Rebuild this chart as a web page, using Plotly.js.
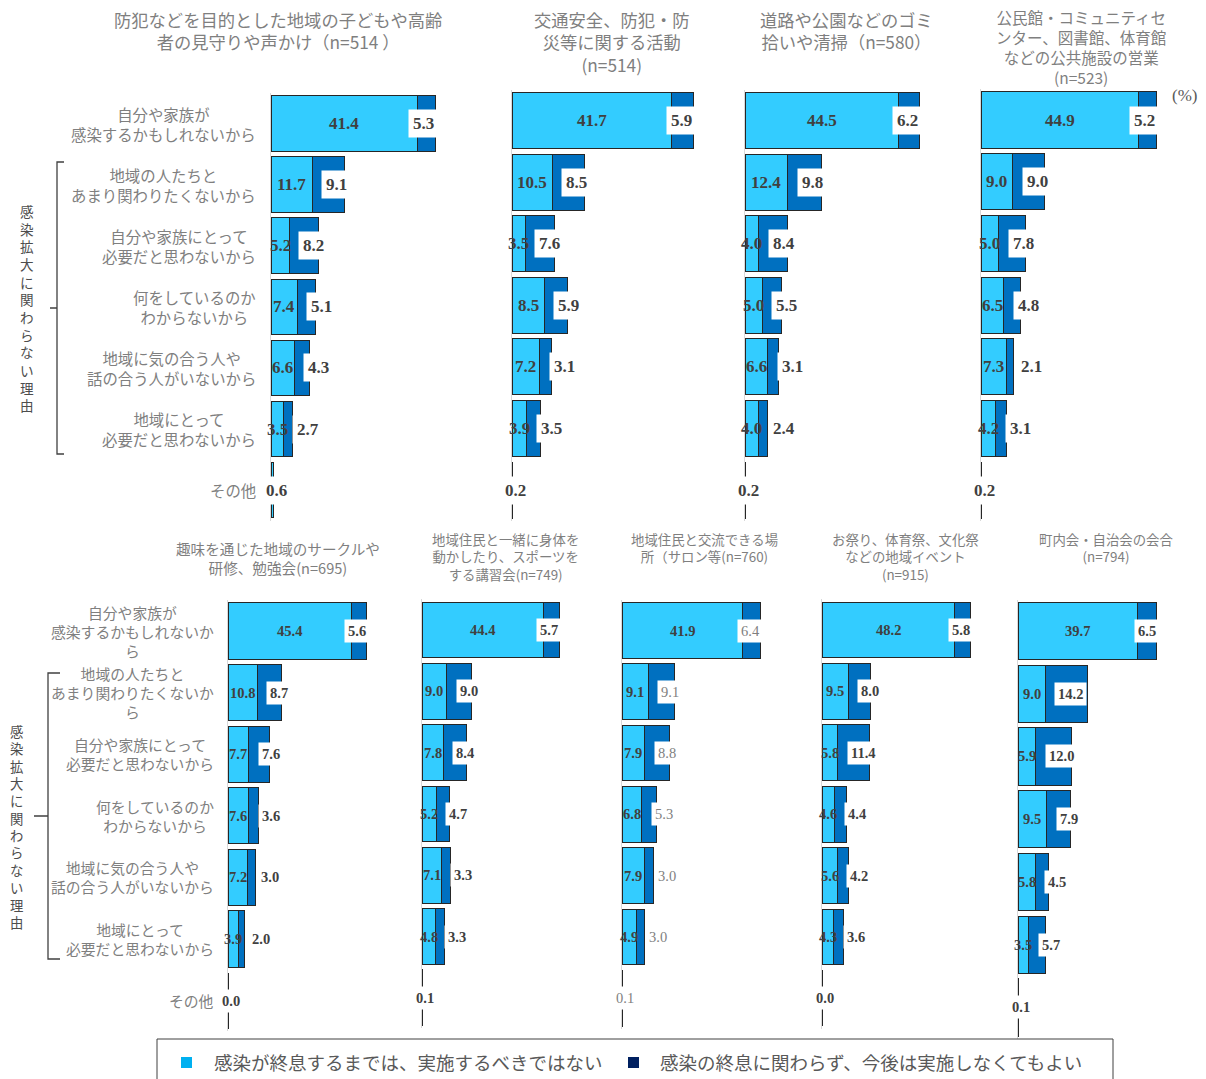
<!DOCTYPE html>
<html>
<head>
<meta charset="utf-8">
<script src="https://cdn.plot.ly/plotly-3.0.1.min.js"></script>
<style>
  html, body { margin: 0; padding: 0; background: #ffffff; }
  #chart { width: 1206px; height: 1079px; }
</style>
</head>
<body>
<div id="chart"></div>
<script>
// Reasons why each community activity should not be held (%)

const reasons = [
  '自分や家族が感染するかもしれないから',
  '地域の人たちとあまり関わりたくないから',
  '自分や家族にとって必要だと思わないから',
  '何をしているのかわからないから',
  '地域に気の合う人や話の合う人がいないから',
  '地域にとって必要だと思わないから',
  'その他'
];

const reasonLabelsTop = [
  '自分や家族が<br>感染するかもしれないから',
  '地域の人たちと<br>あまり関わりたくないから',
  '自分や家族にとって<br>必要だと思わないから',
  '何をしているのか<br>わからないから',
  '地域に気の合う人や<br>話の合う人がいないから',
  '地域にとって<br>必要だと思わないから',
  'その他'
];

const reasonLabelsBottom = [
  '自分や家族が<br>感染するかもしれないか<br>ら',
  '地域の人たちと<br>あまり関わりたくないか<br>ら',
  '自分や家族にとって<br>必要だと思わないから',
  '何をしているのか<br>わからないから',
  '地域に気の合う人や<br>話の合う人がいないから',
  '地域にとって<br>必要だと思わないから',
  'その他'
];

const groupBracketText = '感染拡大に関わらない理由';

const seriesNames = [
  '感染が終息するまでは、実施するべきではない',
  '感染の終息に関わらず、今後は実施しなくてもよい'
];

const activityTitles = [
  '防犯などを目的とした地域の子どもや高齢<br>者の見守りや声かけ（n=514 ）',
  '交通安全、防犯・防<br>災等に関する活動<br>(n=514)',
  '道路や公園などのゴミ<br>拾いや清掃（n=580）',
  '公民館・コミュニティセ<br>ンター、図書館、体育館<br>などの公共施設の営業<br>(n=523)',
  '趣味を通じた地域のサークルや<br>研修、勉強会(n=695)',
  '地域住民と一緒に身体を<br>動かしたり、スポーツを<br>する講習会(n=749)',
  '地域住民と交流できる場<br>所（サロン等(n=760)',
  'お祭り、体育祭、文化祭<br>などの地域イベント<br>(n=915)',
  '町内会・自治会の会合<br>(n=794)'
];

// "until the infection ends" / "not needed from now on" shares per activity
const watchUntilEnd    = [41.4, 11.7, 5.2, 7.4, 6.6, 3.5, 0.6];
const watchFromNow     = [5.3, 9.1, 8.2, 5.1, 4.3, 2.7, null];
const safetyUntilEnd   = [41.7, 10.5, 3.5, 8.5, 7.2, 3.9, 0.2];
const safetyFromNow    = [5.9, 8.5, 7.6, 5.9, 3.1, 3.5, null];
const cleanupUntilEnd  = [44.5, 12.4, 4.0, 5.0, 6.6, 4.0, 0.2];
const cleanupFromNow   = [6.2, 9.8, 8.4, 5.5, 3.1, 2.4, null];
const facilityUntilEnd = [44.9, 9.0, 5.0, 6.5, 7.3, 4.2, 0.2];
const facilityFromNow  = [5.2, 9.0, 7.8, 4.8, 2.1, 3.1, null];
const hobbyUntilEnd    = [45.4, 10.8, 7.7, 7.6, 7.2, 3.9, 0.0];
const hobbyFromNow     = [5.6, 8.7, 7.6, 3.6, 3.0, 2.0, null];
const sportsUntilEnd   = [44.4, 9.0, 7.8, 5.2, 7.1, 4.8, 0.1];
const sportsFromNow    = [5.7, 9.0, 8.4, 4.7, 3.3, 3.3, null];
const salonUntilEnd    = [41.9, 9.1, 7.9, 6.8, 7.9, 4.9, 0.1];
const salonFromNow     = [6.4, 9.1, 8.8, 5.3, 3.0, 3.0, null];
const festivalUntilEnd = [48.2, 9.5, 5.8, 4.6, 5.6, 4.3, 0.0];
const festivalFromNow  = [5.8, 8.0, 11.4, 4.4, 4.2, 3.6, null];
const meetingUntilEnd  = [39.7, 9.0, 5.9, 9.5, 5.8, 3.5, 0.1];
const meetingFromNow   = [6.5, 14.2, 12.0, 7.9, 4.5, 5.7, null];

const seriesUntilEnd = [watchUntilEnd, safetyUntilEnd, cleanupUntilEnd, facilityUntilEnd,
  hobbyUntilEnd, sportsUntilEnd, salonUntilEnd, festivalUntilEnd, meetingUntilEnd];
const seriesFromNow = [watchFromNow, safetyFromNow, cleanupFromNow, facilityFromNow,
  hobbyFromNow, sportsFromNow, salonFromNow, festivalFromNow, meetingFromNow];

// Panel placement in pixels: left edge of the bars, pixels per percent,
// centre of the first row, row pitch, title centre and title size.
const W = 1206, H = 1079;
const panelGeom = [
  { x0: 271,  scale: 3.53, c1: 123.5, pitch: 61.1,  tx: 278,  ty: 30.5, tsize: 17.3, top: true },
  { x0: 512,  scale: 3.82, c1: 120.5, pitch: 61.6,  tx: 612,  ty: 42,   tsize: 17.3, top: true },
  { x0: 745,  scale: 3.45, c1: 120.5, pitch: 61.6,  tx: 846,  ty: 30.5, tsize: 17.3, top: true },
  { x0: 981,  scale: 3.51, c1: 120,   pitch: 61.7,  tx: 1081, ty: 47,   tsize: 15.5, top: true },
  { x0: 228,  scale: 2.72, c1: 631,   pitch: 61.6,  tx: 278,  ty: 557.5, tsize: 14.6, top: false },
  { x0: 422,  scale: 2.74, c1: 630,   pitch: 61.3,  tx: 505,  ty: 556.5, tsize: 13.4, top: false },
  { x0: 622,  scale: 2.87, c1: 630.5, pitch: 61.3,  tx: 704,  ty: 547.5, tsize: 13.4, top: false, softDark: true },
  { x0: 822,  scale: 2.75, c1: 630,   pitch: 61.4,  tx: 905,  ty: 556.5, tsize: 13.4, top: false },
  { x0: 1018, scale: 3.0,  c1: 631,   pitch: 62.75, tx: 1106, ty: 547.5, tsize: 13.4, top: false }
];
const X_MAX = 60;

const LIGHT = '#33CCFF';
const DARK = '#0070C0';
const OUTLINE = '#262626';
const INK = '#404040';
const GREY = '#7f7f7f';
const fontJP = '"Noto Sans CJK JP", "Noto Sans", sans-serif';
const fontNum = '"Liberation Serif", "DejaVu Serif", serif';

const px = v => v / W;
const py = v => 1 - v / H;

const traces = [];
const layout = {
  width: W, height: H,
  margin: { l: 0, r: 0, t: 0, b: 0 },
  paper_bgcolor: '#ffffff',
  plot_bgcolor: 'rgba(0,0,0,0)',
  barmode: 'stack',
  showlegend: false,
  annotations: [],
  shapes: []
};

panelGeom.forEach((g, k) => {
  const n = k + 1;
  const xa = n === 1 ? 'x' : 'x' + n;
  const ya = n === 1 ? 'y' : 'y' + n;
  const light = seriesUntilEnd[k];
  const dark = seriesFromNow[k];

  const yTop = g.c1 - g.pitch / 2;
  const yBot = yTop + 7 * g.pitch;

  layout[n === 1 ? 'xaxis' : 'xaxis' + n] = {
    domain: [px(g.x0), px(g.x0 + g.scale * X_MAX)],
    range: [0, X_MAX],
    anchor: ya,
    visible: false,
    fixedrange: true
  };
  layout[n === 1 ? 'yaxis' : 'yaxis' + n] = {
    domain: [py(yBot), py(yTop)],
    type: 'category',
    categoryorder: 'array',
    categoryarray: reasons,
    range: [6.5, -0.5],
    anchor: xa,
    showticklabels: false,
    ticks: '',
    showgrid: false,
    zeroline: false,
    showline: true,
    linecolor: '#d9d9d9',
    linewidth: 1,
    fixedrange: true
  };

  traces.push({
    type: 'bar', orientation: 'h', name: seriesNames[0],
    x: light, y: reasons, xaxis: xa, yaxis: ya, width: 0.91,
    marker: { color: LIGHT, line: { color: OUTLINE, width: 1 } },
    hoverinfo: 'skip'
  });
  traces.push({
    type: 'bar', orientation: 'h', name: seriesNames[1],
    x: dark, y: reasons, xaxis: xa, yaxis: ya, width: 0.91,
    marker: { color: DARK, line: { color: OUTLINE, width: 1 } },
    hoverinfo: 'skip'
  });

  const numSize = g.top ? 17 : 14.5;
  const pad = g.top ? 4 : 3;
  const darkColor = g.softDark ? GREY : INK;
  const darkWeight = g.softDark ? 'normal' : 'bold';

  reasons.forEach((r, i) => {
    const a = light[i];
    const b = dark[i];
    if (i === reasons.length - 1) {
      // single small value, boxed on top of the thin bar
      layout.annotations.push({
        xref: xa, yref: ya, x: a, y: r, xanchor: 'center', yanchor: 'middle', xshift: 3,
        text: a.toFixed(1), showarrow: false, bgcolor: '#ffffff', borderpad: pad,
        font: { family: fontNum, size: numSize, color: darkColor, weight: darkWeight }
      });
      return;
    }
    layout.annotations.push({
      xref: xa, yref: ya, x: a / 2, y: r, xanchor: 'center', yanchor: 'middle',
      text: a.toFixed(1), showarrow: false,
      font: { family: fontNum, size: numSize, color: INK, weight: 'bold' }
    });
    const darkLabel = {
      xref: xa, yref: ya, y: r, yanchor: 'middle',
      text: b.toFixed(1), showarrow: false, bgcolor: '#ffffff', borderpad: pad,
      font: { family: fontNum, size: numSize, color: darkColor, weight: darkWeight }
    };
    if (i === 0) {
      Object.assign(darkLabel, { x: a + b, xanchor: 'right', xshift: 3 });
    } else {
      Object.assign(darkLabel, { x: a, xanchor: 'left', xshift: 9 });
    }
    layout.annotations.push(darkLabel);
  });

  // activity title above each panel
  layout.annotations.push({
    xref: 'paper', yref: 'paper', x: px(g.tx), y: py(g.ty),
    xanchor: 'center', yanchor: 'middle', align: 'center',
    text: activityTitles[k], showarrow: false,
    font: { family: fontJP, size: g.tsize, color: GREY }
  });
});

// reason labels on the left of each row
reasons.forEach((r, i) => {
  layout.annotations.push({
    xref: 'paper', yref: 'y', x: px(258), y: r, xanchor: 'right', yanchor: 'middle',
    align: 'center', text: reasonLabelsTop[i], showarrow: false,
    font: { family: fontJP, size: 15.4, color: GREY }
  });
  layout.annotations.push({
    xref: 'paper', yref: 'y5', x: px(216), y: r, xanchor: 'right', yanchor: 'middle',
    align: 'center', text: reasonLabelsBottom[i], showarrow: false,
    font: { family: fontJP, size: 14.8, color: GREY }
  });
});

// braces grouping the reasons unrelated to the infection
function brace(x, top, mid, bottom, tipX, armX) {
  layout.shapes.push({
    type: 'path', xref: 'paper', yref: 'paper',
    path: `M ${px(armX)},${py(top)} L ${px(x)},${py(top)} L ${px(x)},${py(bottom)} L ${px(armX)},${py(bottom)}` +
          ` M ${px(tipX)},${py(mid)} L ${px(x)},${py(mid)}`,
    line: { color: '#404040', width: 1.3 }
  });
}
brace(57, 162, 308, 454, 50, 64);
brace(48, 673, 816, 959, 34, 60);

// vertical group caption, stacked one character per line
function verticalText(cx, cy, size) {
  layout.annotations.push({
    xref: 'paper', yref: 'paper', x: px(cx), y: py(cy),
    xanchor: 'center', yanchor: 'middle', align: 'center',
    text: Array.from(groupBracketText).join('<br>'), showarrow: false,
    font: { family: fontJP, size: size, color: '#4d4d4d' }
  });
}
verticalText(27, 307.5, 13.6);
verticalText(16, 827, 13.35);

// unit
layout.annotations.push({
  xref: 'paper', yref: 'paper', x: px(1184), y: py(95), xanchor: 'center', yanchor: 'middle',
  text: '(%)', showarrow: false, font: { family: fontNum, size: 17, color: '#595959' }
});

// legend box
layout.shapes.push({
  type: 'rect', xref: 'paper', yref: 'paper',
  x0: px(157), x1: px(1113), y0: py(1090), y1: py(1039),
  line: { color: '#404040', width: 1 }, fillcolor: 'rgba(0,0,0,0)'
});
const legendMarks = [
  { x: 181, color: '#00B0F0', tx: 212 },
  { x: 628, color: '#002060', tx: 658 }
];
legendMarks.forEach((m, i) => {
  layout.shapes.push({
    type: 'rect', xref: 'paper', yref: 'paper',
    x0: px(m.x), x1: px(m.x + 11), y0: py(1068), y1: py(1057),
    line: { width: 0 }, fillcolor: m.color
  });
  layout.annotations.push({
    xref: 'paper', yref: 'paper', x: px(m.tx), y: py(1062), xanchor: 'left', yanchor: 'middle',
    text: seriesNames[i], showarrow: false,
    font: { family: fontJP, size: 18.5, color: '#595959' }
  });
});

Plotly.newPlot('chart', traces, layout, { staticPlot: true, displayModeBar: false });
</script>
</body>
</html>
